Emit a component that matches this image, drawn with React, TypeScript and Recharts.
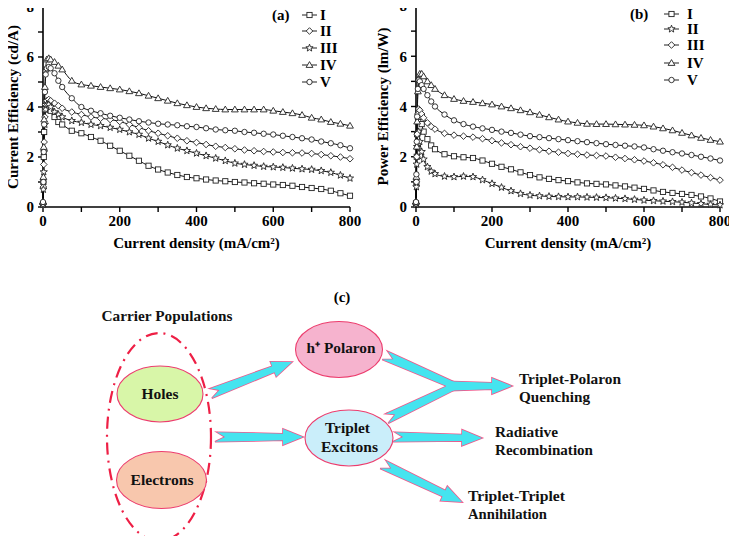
import React from 'react';
import { LineChart, Line, XAxis, YAxis, Legend } from 'recharts';

// shared current density samples (mA/cm2)
const xs = [0, 1, 2, 3, 5, 7, 10, 15, 20, 30, 40, 50, 75, 100, 125, 150, 175, 200, 225, 250, 275, 300, 325, 350, 375, 400, 425, 450, 475, 500, 525, 550, 575, 600, 625, 650, 675, 700, 725, 750, 775, 800];

// (a) current efficiency, cd/A
const ceI = [0.1, 1.0, 2.0, 3.0, 3.9, 4.2, 4.15, 4.0, 3.85, 3.6, 3.4, 3.3, 3.05, 2.95, 2.8, 2.65, 2.45, 2.25, 2.05, 1.85, 1.65, 1.5, 1.38, 1.28, 1.2, 1.15, 1.1, 1.06, 1.03, 1.0, 0.98, 0.95, 0.93, 0.9, 0.88, 0.85, 0.8, 0.76, 0.72, 0.65, 0.55, 0.45];
const ceII = [0.1, 0.8, 1.7, 2.6, 3.6, 4.1, 4.25, 4.3, 4.25, 4.15, 4.05, 3.95, 3.8, 3.7, 3.6, 3.55, 3.5, 3.42, 3.3, 3.18, 3.05, 2.95, 2.85, 2.75, 2.65, 2.58, 2.5, 2.43, 2.38, 2.33, 2.28, 2.25, 2.22, 2.2, 2.18, 2.17, 2.16, 2.14, 2.1, 2.05, 2.0, 1.93];
const ceIII = [0.1, 0.7, 1.4, 2.2, 3.3, 3.9, 4.1, 4.1, 4.0, 3.8, 3.7, 3.6, 3.45, 3.38, 3.3, 3.25, 3.18, 3.1, 3.0, 2.9, 2.75, 2.62, 2.48, 2.35, 2.25, 2.15, 2.05, 1.95, 1.85, 1.75, 1.7, 1.66, 1.62, 1.6, 1.58, 1.55, 1.52, 1.5, 1.45, 1.38, 1.27, 1.15];
const ceIV = [0.2, 1.2, 2.4, 3.5, 4.8, 5.5, 5.9, 5.95, 5.9, 5.8, 5.65, 5.5, 5.05, 4.9, 4.85, 4.8, 4.75, 4.7, 4.63, 4.55, 4.45, 4.35, 4.25, 4.15, 4.07, 4.0, 3.95, 3.92, 3.9, 3.9, 3.9, 3.9, 3.9, 3.85, 3.8, 3.75, 3.68, 3.57, 3.5, 3.4, 3.33, 3.25];
const ceV = [0.2, 1.0, 2.2, 3.3, 4.6, 5.3, 5.55, 5.6, 5.55, 5.35, 5.05, 4.8, 4.35, 4.0, 3.85, 3.75, 3.65, 3.57, 3.5, 3.43, 3.38, 3.33, 3.3, 3.27, 3.23, 3.2, 3.15, 3.1, 3.07, 3.05, 3.0, 2.97, 2.93, 2.9, 2.85, 2.8, 2.75, 2.7, 2.62, 2.55, 2.47, 2.35];

// (b) power efficiency, lm/W
const peI = [0.15, 1.0, 2.0, 2.9, 3.6, 3.8, 3.6, 3.3, 3.0, 2.7, 2.45, 2.3, 2.1, 2.02, 1.98, 1.95, 1.85, 1.72, 1.6, 1.5, 1.38, 1.27, 1.18, 1.12, 1.07, 1.03, 0.98, 0.94, 0.92, 0.9, 0.86, 0.82, 0.77, 0.72, 0.66, 0.6, 0.56, 0.52, 0.48, 0.42, 0.34, 0.22];
const peII = [0.1, 0.8, 1.7, 2.4, 2.95, 3.0, 2.6, 2.2, 1.9, 1.6, 1.42, 1.32, 1.22, 1.2, 1.22, 1.2, 1.08, 0.93, 0.78, 0.64, 0.53, 0.47, 0.44, 0.42, 0.41, 0.4, 0.4, 0.39, 0.38, 0.37, 0.35, 0.33, 0.3, 0.27, 0.25, 0.23, 0.21, 0.19, 0.16, 0.13, 0.1, 0.08];
const peIII = [0.15, 1.0, 2.0, 2.9, 3.7, 3.9, 3.85, 3.7, 3.55, 3.35, 3.2, 3.1, 2.93, 2.86, 2.82, 2.78, 2.72, 2.64, 2.55, 2.48, 2.4, 2.34, 2.28, 2.22, 2.18, 2.13, 2.1, 2.07, 2.05, 2.03, 1.98, 1.93, 1.88, 1.83, 1.76, 1.68, 1.58, 1.47, 1.37, 1.27, 1.17, 1.07];
const peIV = [0.2, 1.2, 2.4, 3.4, 4.6, 5.1, 5.3, 5.3, 5.2, 5.0, 4.85, 4.7, 4.45, 4.3, 4.22, 4.18, 4.13, 4.08, 4.0, 3.93, 3.85, 3.77, 3.67, 3.57, 3.48, 3.4, 3.35, 3.31, 3.3, 3.3, 3.29, 3.28, 3.27, 3.25, 3.2, 3.13, 3.05, 2.95, 2.85, 2.75, 2.67, 2.6];
const peV = [0.2, 1.3, 2.6, 3.6, 4.7, 5.05, 5.0, 4.85, 4.7, 4.45, 4.2, 4.0, 3.68, 3.45, 3.3, 3.2, 3.13, 3.07, 3.0, 2.95, 2.88, 2.82, 2.78, 2.74, 2.7, 2.66, 2.62, 2.58, 2.54, 2.5, 2.47, 2.44, 2.41, 2.37, 2.3, 2.24, 2.18, 2.13, 2.07, 2.0, 1.93, 1.85];

const seriesNames = ['I', 'II', 'III', 'IV', 'V'];
const shapesA = ['square', 'diamond', 'star', 'triangle', 'circle'];
const shapesB = ['square', 'star', 'diamond', 'triangle', 'circle'];
const xTicks = [0, 100, 200, 300, 400, 500, 600, 700, 800];
const yTicks = [0, 1, 2, 3, 4, 5, 6, 7, 8];

const rowsA = xs.map((x, i) => ({ x, s0: ceI[i], s1: ceII[i], s2: ceIII[i], s3: ceIV[i], s4: ceV[i] }));
const rowsB = xs.map((x, i) => ({ x, s0: peI[i], s1: peII[i], s2: peIII[i], s3: peIV[i], s4: peV[i] }));

const SERIF = '"Liberation Serif", "Times New Roman", serif';
const tickStyle = { fontFamily: SERIF, fontWeight: 700, fontSize: 15, fill: '#000' };

// charts are shifted up by this much so the top tick label is not clipped
const LIFT = 12;

function Mark({ cx, cy, shape }: { cx?: number; cy?: number; shape: string }) {
  if (cx == null || cy == null) return null;
  const st = { fill: '#fff', stroke: '#222', strokeWidth: 0.9 };
  if (shape === 'square') return <rect x={cx - 2.6} y={cy - 2.6} width={5.2} height={5.2} {...st} />;
  if (shape === 'diamond') return <polygon points={`${cx},${cy - 3.3} ${cx + 3.3},${cy} ${cx},${cy + 3.3} ${cx - 3.3},${cy}`} {...st} />;
  if (shape === 'triangle') return <polygon points={`${cx},${cy - 3.4} ${cx + 3.4},${cy + 2.4} ${cx - 3.4},${cy + 2.4}`} {...st} />;
  if (shape === 'star') {
    const pts: string[] = [];
    for (let k = 0; k < 10; k++) {
      const r = k % 2 === 0 ? 3.8 : 1.6;
      const a = -Math.PI / 2 + (k * Math.PI) / 5;
      pts.push(`${cx + r * Math.cos(a)},${cy + r * Math.sin(a)}`);
    }
    return <polygon points={pts.join(' ')} {...st} />;
  }
  return <circle cx={cx} cy={cy} r={2.7} {...st} />;
}

function YTitle({ viewBox, text, titleX }: any) {
  const cy = viewBox.y + viewBox.height / 2;
  return (
    <text x={titleX} y={cy} dy="0.35em" transform={`rotate(-90 ${titleX} ${cy})`} textAnchor="middle" style={tickStyle}>
      {text}
    </text>
  );
}

function XTitle({ viewBox, text, titleY }: any) {
  const cx = viewBox.x + viewBox.width / 2;
  return (
    <text x={cx} y={titleY} dy="0.35em" textAnchor="middle" style={tickStyle}>
      {text}
    </text>
  );
}

function LegendBox({ tag, shapes, rows, lineX, textX }: { tag: string; shapes: string[]; rows: number[]; lineX: number; textX: number }) {
  return (
    <svg width={100} height={92} style={{ overflow: 'visible' }}>
      <text x={4} y={rows[0]} dy="0.35em" style={tickStyle}>{tag}</text>
      {seriesNames.map((n, i) => (
        <g key={n}>
          <line x1={lineX} x2={lineX + 15} y1={rows[i]} y2={rows[i]} stroke="#222" strokeWidth={1} />
          <Mark cx={lineX + 7.5} cy={rows[i]} shape={shapes[i]} />
          <text x={textX} y={rows[i]} dy="0.35em" style={tickStyle}>{n}</text>
        </g>
      ))}
    </svg>
  );
}

function EffChart({ data, shapes, title, tag, yAxisWidth, plotWidth, right, top, legendLeft, legendRows, lineX, textX }: any) {
  return (
    <LineChart width={yAxisWidth + plotWidth + right} height={262 + LIFT} data={data} margin={{ top: top + LIFT, right, bottom: 0, left: 0 }}>
      <XAxis
        dataKey="x"
        type="number"
        domain={[0, 800]}
        ticks={xTicks}
        interval={0}
        tickFormatter={(v: number) => (v % 200 === 0 ? String(v) : '')}
        tick={tickStyle}
        tickSize={5}
        tickMargin={3}
        axisLine={{ stroke: '#000', strokeWidth: 1.6 }}
        tickLine={{ stroke: '#000', strokeWidth: 1.4 }}
        height={55}
        label={<XTitle text="Current density (mA/cm²)" titleY={243 + LIFT} />}
      />
      <YAxis
        type="number"
        domain={[0, 8]}
        ticks={yTicks}
        interval={0}
        tickFormatter={(v: number) => (v % 2 === 0 ? String(v) : '')}
        tick={tickStyle}
        tickSize={5}
        tickMargin={4}
        axisLine={{ stroke: '#000', strokeWidth: 1.6 }}
        tickLine={{ stroke: '#000', strokeWidth: 1.4 }}
        width={yAxisWidth}
        label={<YTitle text={title} titleX={13} />}
      />
      <Legend
        layout="vertical"
        align="center"
        verticalAlign="middle"
        wrapperStyle={{ left: legendLeft, top: 4 + LIFT, width: 100, height: 92 }}
        content={() => <LegendBox tag={tag} shapes={shapes} rows={legendRows} lineX={lineX} textX={textX} />}
      />
      {seriesNames.map((n, i) => (
        <Line
          key={n}
          name={n}
          dataKey={`s${i}`}
          type="monotone"
          stroke="#111"
          strokeWidth={1}
          activeDot={false}
          isAnimationActive={false}
          dot={(p: any) => <Mark key={`${n}-${p.index}`} cx={p.cx} cy={p.cy} shape={shapes[i]} />}
        />
      ))}
    </LineChart>
  );
}

function arrowPts(x1: number, y1: number, x2: number, y2: number, opts: { s?: number; hw?: number; hl?: number; notch?: number; head?: boolean } = {}) {
  const { s = 3.3, hw = 8, hl = 20, notch = 8, head = true } = opts;
  const dx = x2 - x1, dy = y2 - y1;
  const L = Math.hypot(dx, dy);
  const ux = dx / L, uy = dy / L, vx = -uy, vy = ux;
  const p = (u: number, v: number) => `${x1 + ux * u + vx * v},${y1 + uy * u + vy * v}`;
  const pts = head
    ? [p(0, -s - 1.5), p(L - hl, -s), p(L - hl, -hw), p(L, 0), p(L - hl, hw), p(L - hl, s), p(-2, s + 1.5), p(notch, 0)]
    : [p(0, -s - 1.5), p(L, -s), p(L, s), p(-2, s + 1.5), p(notch, 0)];
  return pts.join(' ');
}

function CText({ x, y, w, children, anchor = 'middle', size = 15 }: any) {
  return (
    <text x={x} y={y} dy="0.35em" textAnchor={anchor} textLength={w} lengthAdjust="spacingAndGlyphs"
      style={{ fontFamily: SERIF, fontWeight: 700, fontSize: size, fill: '#111' }}>
      {children}
    </text>
  );
}

const arrows = [
  arrowPts(212, 393, 292, 362),
  arrowPts(217, 437, 303, 437),
  arrowPts(386, 356, 455, 386, { head: false }),
  arrowPts(388, 418, 455, 386, { head: false }),
  arrowPts(446, 386, 512, 386, { notch: 0 }),
  arrowPts(395, 437, 482, 438),
  arrowPts(384, 465, 462, 502),
];

function Diagram() {
  const ell = { stroke: '#ec3d6e', strokeWidth: 1.1 };
  return (
    <svg width={737} height={544} style={{ position: 'absolute', left: 0, top: 0, pointerEvents: 'none' }}>
      <text x={342} y={297} dy="0.35em" textAnchor="middle" style={{ fontFamily: SERIF, fontWeight: 700, fontSize: 15 }}>(c)</text>
      <CText x={167} y={316} w={131}>Carrier Populations</CText>
      <ellipse cx={159} cy={437} rx={52} ry={104} fill="none" stroke="#ee1f45" strokeWidth={2.2} strokeDasharray="12 6 2 6" />
      <ellipse cx={160} cy={394} rx={43} ry={28} fill="#d8f6a8" {...ell} />
      <ellipse cx={161.5} cy={480} rx={45} ry={28.5} fill="#f8c7ad" {...ell} />
      <ellipse cx={339} cy={349.5} rx={43.5} ry={28} fill="#f6b3ce" {...ell} />
      <ellipse cx={349} cy={438} rx={44} ry={28} fill="#caeefa" {...ell} />
      <CText x={160} y={394} w={37}>Holes</CText>
      <CText x={162} y={480} w={63}>Electrons</CText>
      <CText x={341} y={348} w={69}>h⁺ Polaron</CText>
      <CText x={347.5} y={428} w={45}>Triplet</CText>
      <CText x={349.5} y={447} w={57}>Excitons</CText>

      <g fill="none" stroke="#f0578a" strokeWidth={1.6} strokeLinejoin="miter">
        {arrows.map((pts, i) => <polygon key={i} points={pts} />)}
      </g>
      <g fill="#45e4ef">
        {arrows.map((pts, i) => <polygon key={i} points={pts} />)}
      </g>

      <CText x={519} y={379} w={102} anchor="start">Triplet-Polaron</CText>
      <CText x={519} y={397} w={71} anchor="start">Quenching</CText>
      <CText x={495} y={432} w={63} anchor="start">Radiative</CText>
      <CText x={495} y={449.5} w={98} anchor="start">Recombination</CText>
      <CText x={468} y={496} w={97} anchor="start">Triplet-Triplet</CText>
      <CText x={468} y={514} w={79} anchor="start">Annihilation</CText>
    </svg>
  );
}

export default function App() {
  return (
    <div style={{ position: 'relative', width: 737, height: 544, margin: -8, background: '#fff', overflow: 'hidden' }}>
      <div style={{ position: 'absolute', left: 0, top: -LIFT }}>
        <EffChart data={rowsA} shapes={shapesA} title="Current Efficiency (cd/A)" tag="(a)" yAxisWidth={43} plotWidth={307} right={20} top={7}
          legendLeft={268} legendRows={[11, 27, 44, 61, 78]} lineX={34} textX={52} />
      </div>
      <div style={{ position: 'absolute', left: 370, top: -LIFT }}>
        <EffChart data={rowsB} shapes={shapesB} title="Power Efficiency (lm/W)" tag="(b)" yAxisWidth={46} plotWidth={304} right={17} top={6}
          legendLeft={256} legendRows={[10, 25, 41, 59, 76]} lineX={38} textX={61} />
      </div>
      <Diagram />
    </div>
  );
}
